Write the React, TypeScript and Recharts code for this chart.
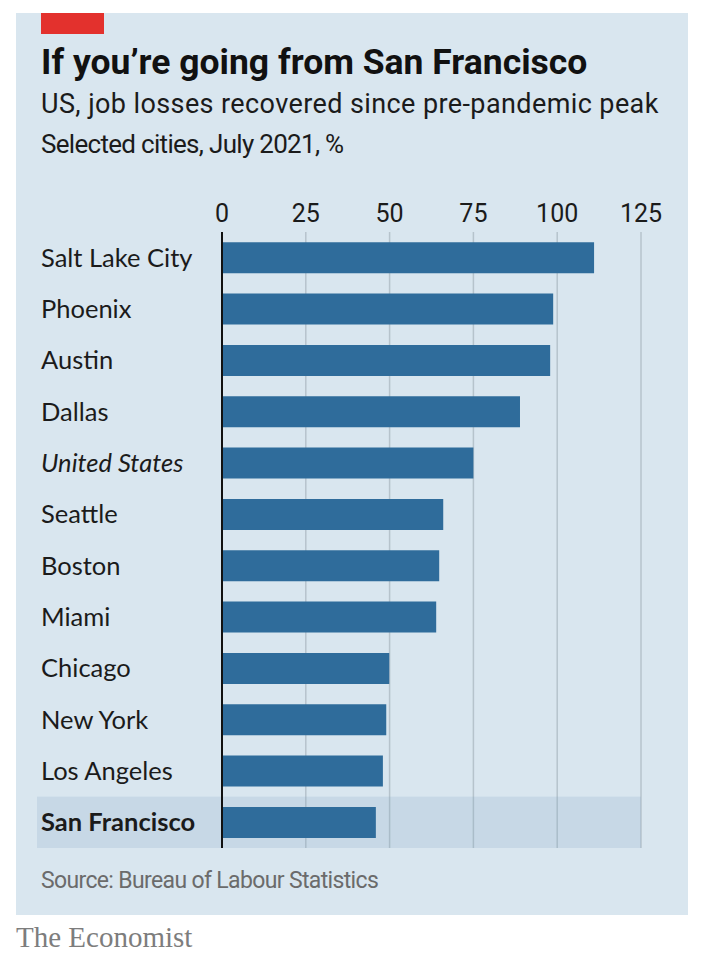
import { BarChart, Bar, XAxis, YAxis, CartesianGrid, ReferenceArea, ReferenceLine } from 'recharts'

const CITIES = [
  'Salt Lake City',
  'Phoenix',
  'Austin',
  'Dallas',
  'United States',
  'Seattle',
  'Boston',
  'Miami',
  'Chicago',
  'New York',
  'Los Angeles',
  'San Francisco',
]
const RECOVERED = [111, 98.8, 97.9, 88.9, 75, 66, 64.8, 63.9, 49.9, 49, 48, 45.9]
const X_TICKS = [0, 25, 50, 75, 100, 125]
const ITALIC_ROW = 'United States'
const HIGHLIGHT_ROW = 'San Francisco'

const data = CITIES.map((city, i) => ({ city, value: RECOVERED[i] }))

const BG = '#d9e6ef'
const BAR = '#2f6c9b'
const GRID = '#b6c3cc'
const INK = '#1b1b1b'
const SANS = 'Roboto, "DejaVu Sans Condensed", sans-serif'
const LABEL_FONT = 'Lato, "Open Sans", sans-serif'

// left-aligned city names, US in italics and SF in bold
function CityTick(props: any) {
  const { y, payload } = props
  const name = payload.value as string
  return (
    <text
      x={41}
      y={y}
      dy={9}
      textAnchor="start"
      fill={INK}
      fontFamily={LABEL_FONT}
      fontSize={25.5}
      fontStyle={name === ITALIC_ROW ? 'italic' : 'normal'}
      fontWeight={name === HIGHLIGHT_ROW ? 700 : 400}
    >
      {name}
    </text>
  )
}

// band behind the highlighted row, stretched under its label
function HighlightBand(props: any) {
  const { x, y, width, height } = props
  const reach = 185
  return <rect x={x - reach} y={y} width={width + reach} height={height} fill="#78a0be" fillOpacity={0.19} />
}

export default function App() {
  return (
    <div style={{ position: 'absolute', left: 0, top: 0, width: 714, height: 970, background: '#fff' }}>
      <div style={{ position: 'absolute', left: 16, top: 13, width: 672, height: 902, background: BG }} />
      <div style={{ position: 'absolute', left: 41, top: 13, width: 63, height: 21, background: '#e3312d' }} />

      <div
        style={{
          position: 'absolute',
          left: 41,
          top: 45,
          fontFamily: SANS,
          fontWeight: 700,
          fontSize: 35.5,
          lineHeight: '35px',
          color: '#111',
          whiteSpace: 'nowrap',
        }}
      >
        If you’re going from San Francisco
      </div>
      <div
        style={{
          position: 'absolute',
          left: 41,
          top: 91,
          fontFamily: SANS,
          fontSize: 27,
          lineHeight: '27px',
          letterSpacing: 0.4,
          color: INK,
          whiteSpace: 'nowrap',
        }}
      >
        US, job losses recovered since pre-pandemic peak
      </div>
      <div
        style={{
          position: 'absolute',
          left: 41,
          top: 131,
          fontFamily: SANS,
          fontSize: 26,
          lineHeight: '26px',
          letterSpacing: -0.7,
          color: INK,
          whiteSpace: 'nowrap',
        }}
      >
        Selected cities, July 2021, %
      </div>

      <div style={{ position: 'absolute', left: 0, top: 0 }}>
        <BarChart
          width={714}
          height={970}
          data={data}
          layout="vertical"
          margin={{ top: 202, right: 73, bottom: 122, left: 37 }}
          barCategoryGap="20%"
        >
          <ReferenceArea
            y1={HIGHLIGHT_ROW}
            y2={HIGHLIGHT_ROW}
            shape={<HighlightBand />}
            ifOverflow="visible"
          />
          <CartesianGrid horizontal={false} stroke={GRID} strokeWidth={1.5} verticalValues={X_TICKS.slice(1)} />
          <XAxis
            type="number"
            orientation="top"
            domain={[0, 125]}
            ticks={X_TICKS}
            height={30}
            axisLine={false}
            tickLine={false}
            tickSize={0}
            tickMargin={10}
            tick={{ fill: INK, fontSize: 25, fontFamily: SANS }}
          />
          <YAxis
            type="category"
            dataKey="city"
            width={185}
            axisLine={false}
            tickLine={false}
            tick={<CityTick />}
            interval={0}
          />
          <Bar dataKey="value" fill={BAR} isAnimationActive={false} />
          <ReferenceLine x={0} stroke="#111" strokeWidth={2} />
        </BarChart>
      </div>

      <div
        style={{
          position: 'absolute',
          left: 41,
          top: 869,
          fontFamily: SANS,
          fontSize: 23,
          lineHeight: '23px',
          letterSpacing: -0.65,
          color: '#6b6b6b',
          whiteSpace: 'nowrap',
        }}
      >
        Source: Bureau of Labour Statistics
      </div>
      <div
        style={{
          position: 'absolute',
          left: 16,
          top: 923,
          fontFamily: '"Liberation Serif", "DejaVu Serif", serif',
          fontSize: 29,
          lineHeight: '29px',
          color: '#7d7d7d',
          whiteSpace: 'nowrap',
        }}
      >
        The Economist
      </div>
    </div>
  )
}
